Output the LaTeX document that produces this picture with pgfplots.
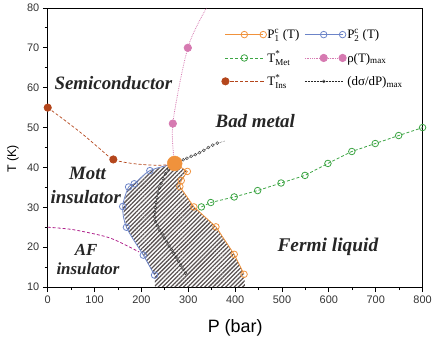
\documentclass[border=0pt]{standalone}
\usepackage{pgfplots}
\pgfplotsset{compat=1.18}
\usepackage{amsmath}
\usepackage{fontspec}
\setmainfont{Liberation Serif}
\setsansfont{Liberation Sans}
\usetikzlibrary{patterns.meta}
\definecolor{corange}{HTML}{F0923C}
\definecolor{cblue}{HTML}{6C84C8}
\definecolor{cgreen}{HTML}{3DA544}
\definecolor{cpink}{HTML}{D67AB1}
\definecolor{cbrown}{HTML}{B4461C}
\definecolor{cmag}{HTML}{B0238C}
\definecolor{chatch}{HTML}{5A5252}
\begin{document}
\begin{tikzpicture}
\begin{axis}[
  scale only axis, width=377pt, height=280.7pt,
  xmin=0, xmax=800, ymin=10, ymax=80,
  xtick={0,100,...,800}, ytick={10,20,...,80},
  minor x tick num=1, minor y tick num=1,
  tick align=outside, xtick pos=left, ytick pos=left,
  major tick length=5pt, minor tick length=3pt,
  tick style={black, line width=0.8pt},
  axis line style={line width=0.8pt},
  ticklabel style={font=\sffamily\fontsize{11}{13}\selectfont, text=black!80},
  /pgf/number format/assume math mode=true,
  xlabel={P (bar)}, ylabel={T (K)},
  xlabel style={font=\sffamily\fontsize{18}{20}\selectfont, at={(axis description cs:0.5,0)}, anchor=center, yshift=-41pt},
  ylabel style={font=\sffamily\fontsize{12.5}{14}\selectfont, at={([xshift=-35pt]axis description cs:0,0.459)}, anchor=center},
  legend columns=2,
  legend cell align=left,
  legend style={draw=none, fill=none, at={(axis cs:371,75.3)}, anchor=north west, inner sep=0pt,
    font=\fontsize{13}{15}\selectfont, row sep=0pt,
    nodes={text height=11pt, text depth=10.5pt, inner sep=1pt},
    /tikz/every even column/.append style={column sep=4pt}},
  legend image code/.code={\draw[mark repeat=2,mark phase=2,#1] plot coordinates {(0pt,4pt) (19pt,4pt) (38pt,4pt)};},
]
% hatched two-phase region
\addplot[draw=none, pattern={Lines[angle=45,distance=3pt,line width=1.3pt]}, pattern color=chatch, forget plot]
  coordinates {(271,41)(298,39)(285,36.7)(282,35.2)(312,30.1)(359,25.1)(398,18.2)(419,13.2)(421,10)(229,10)(228,13)(204,18)(168,25)(160,30.2)(172.6,35.1)(184.6,35.9)(218,39.2)(262,40.6)} -- cycle;
% AF boundary
\addplot[cmag, densely dashed, line width=0.8pt, smooth, forget plot]
  coordinates {(0,25)(54,24.4)(125,22.6)(160,20.9)(195,18.8)};
% P1
\addplot[corange, line width=0.8pt, mark=o, mark size=3.3pt, mark options={fill=white, solid}, mark indices={2,3,4,5,6,7,8}]
  coordinates {(271,41)(298,39)(285,36.7)(282,35.2)(312,30.1)(359,25.1)(398,18.2)(419,13.2)};
\addlegendentry{$\text{P}^{\text{c}}_{\text{1}}$ (T)}
% P2
\addplot[cblue, line width=0.8pt, smooth, mark=o, mark size=3.3pt, mark options={fill=white, solid}, mark indices={2,3,4,5,6,7,8}]
  coordinates {(266,40.8)(218,39.2)(184.6,35.9)(172.6,35.1)(160,30.2)(168,25)(204,18)(228,13)};
\addlegendentry{$\text{P}^{\text{c}}_{\text{2}}$ (T)}
% T*Met
\addplot[cgreen, line width=0.8pt, densely dashed, mark=o, mark size=3.3pt, mark options={fill=white, solid}]
  coordinates {(328,30.1)(348,31.2)(398,32.6)(448,34.2)(498,36.1)(549,38)(598,41)(649,44)(699,46)(749,48)(800,50)};
\addlegendentry{$\text{T}^{\text{*}}_{\text{Met}}$}
% rho max
\addplot[cpink, line width=0.8pt, densely dotted, smooth, mark=*, mark size=3.7pt, mark options={solid}, mark indices={2,3}]
  coordinates {(271,41)(267,51)(299,70)(339,80)};
\addlegendentry{ρ(T)\textsubscript{max}}
% T*Ins
\addplot[cbrown, line width=0.7pt, densely dashed, smooth, mark=*, mark size=3.7pt, mark options={solid}, mark indices={1,5}]
  coordinates {(0,55)(40,51.5)(75,48.3)(110,44.8)(140,42)(180,41)(220,40.6)(250,40.6)(271,40.9)};
\addlegendentry{$\text{T}^{\text{*}}_{\text{Ins}}$}
% dsigma/dP max, lower branch
\addplot[black!85, line width=0.5pt, densely dotted, mark=o, mark size=1.5pt, mark options={solid, fill=white, line width=0.35pt}]
  coordinates {(258,39.6)(251,38.4)(246,37.2)(242,36)(238.5,34.8)(235.5,33.6)(233,32.4)(231,31.2)(229.5,30)(228.5,28.8)(228.5,27.6)(230,26.4)(234,25.4)(239,24.3)(244,23.3)(249,22.3)(254,21.3)(259,20.3)(264,19.4)(269,18.5)(274,17.5)(279,16.5)(284,15.5)(289,14.5)(294,13.5)};
\addlegendentry{(dσ/dP)\textsubscript{max}}
% upper branch
\addplot[black!85, line width=0.5pt, densely dotted, mark=o, mark size=1.5pt, mark options={solid, fill=white, line width=0.35pt}, mark indices={2,3,4,5,6,7,8,9,10,11}, forget plot]
  coordinates {(378,46.6)(362,46.1)(352,45.6)(343,45)(333,44.3)(324,43.7)(315,43.2)(306,42.8)(297,42.3)(289,41.9)(280,41.5)(271,41)};
% critical point
\addplot[only marks, mark=*, mark size=7.5pt, color=corange, forget plot] coordinates {(271,41)};
% region labels
\node[font=\bfseries\itshape\fontsize{19}{21}\selectfont, text=black!85] at (axis cs:140,61.2) {Semiconductor};
\node[font=\bfseries\itshape\fontsize{19}{21}\selectfont, text=black!85] at (axis cs:443,51.7) {Bad metal};
\node[font=\bfseries\itshape\fontsize{19}{21}\selectfont, text=black!85] at (axis cs:85,38.6) {Mott};
\node[font=\bfseries\itshape\fontsize{19}{21}\selectfont, text=black!85] at (axis cs:81,32.6) {insulator};
\node[font=\bfseries\itshape\fontsize{17}{19}\selectfont, text=black!85] at (axis cs:82,19.2) {AF};
\node[font=\bfseries\itshape\fontsize{17}{19}\selectfont, text=black!85] at (axis cs:86,14.7) {insulator};
\node[font=\bfseries\itshape\fontsize{19.5}{21}\selectfont, text=black!85] at (axis cs:598,20.1) {Fermi liquid};
\end{axis}
\path (current axis.south west) ++(-48pt,-57.3pt) (current axis.north east) ++(10pt,8pt);
\end{tikzpicture}
\end{document}
